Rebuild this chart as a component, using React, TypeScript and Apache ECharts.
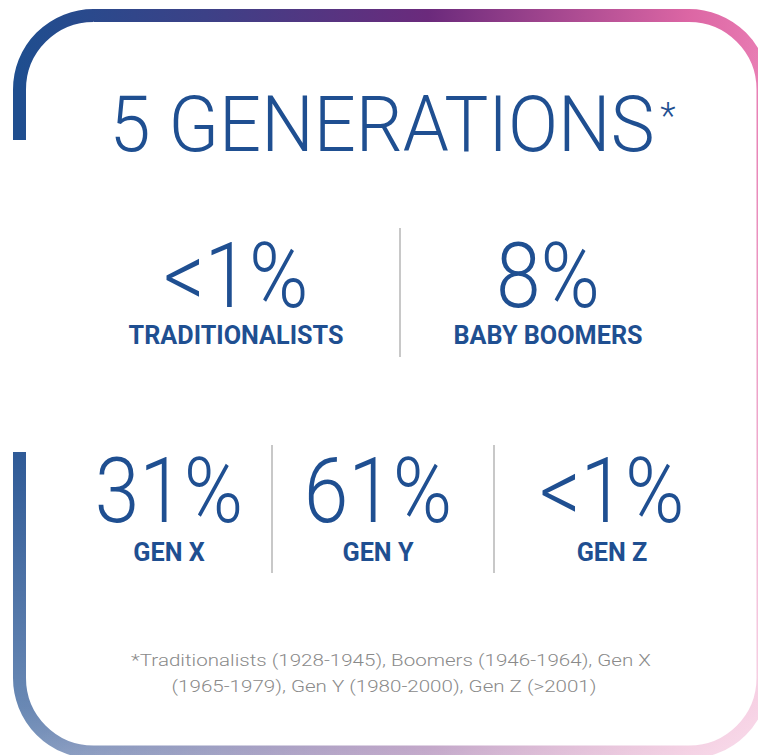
import React, { useEffect, useRef } from "react";
import * as echarts from "echarts";

const titleText = "5 GENERATIONS";
const titleMark = "*";
const topValues = ["<1%", "8%"];
const topLabels = ["TRADITIONALISTS", "BABY BOOMERS"];
const bottomValues = ["31%", "61%", "<1%"];
const bottomLabels = ["GEN X", "GEN Y", "GEN Z"];
const footnoteLines = [
  "*Traditionalists (1928-1945), Boomers (1946-1964), Gen X",
  "(1965-1979), Gen Y (1980-2000), Gen Z (>2001)",
];

const BLUE = "#1f4f91";
const GREY = "#8a8a8a";
const DIV = "#c8c8c8";

function measure(text: string, font: string): number {
  const c = document.createElement("canvas");
  const ctx = c.getContext("2d");
  if (!ctx) return 1;
  ctx.font = font;
  return ctx.measureText(text).width;
}

function txt(text: string, cx: number, cy: number, font: string, fill: string, sx: number) {
  return {
    type: "text",
    x: cx,
    y: cy,
    scaleX: sx,
    z: 10,
    style: { text, x: 0, y: 0, font, fill, textAlign: "center", textVerticalAlign: "middle" },
  };
}

export default function App() {
  const ref = useRef<HTMLDivElement>(null);
  useEffect(() => {
    document.body.style.margin = "0";
    if (!ref.current) return;
    const chart = echarts.init(ref.current, undefined, { renderer: "svg" });

    const titleFont = "300 77px Roboto";
    const valueFont = "300 91px Roboto";
    const labelFont = "bold 26px Roboto";
    const noteFont = "300 17px Roboto";
    const sTitle = 545 / measure(titleText, titleFont);
    const sValue = 145 / measure(topValues[0], valueFont);
    const sLabel = 215 / measure(topLabels[0], labelFont);
    const sNote = 520 / measure(footnoteLines[0], noteFont);

    const topCx = [236, 548];
    const botCx = [169, 378, 612];

    const els: any[] = [];
    // border
    els.push({
      type: "rect",
      z: 1,
      shape: { x: 19.5, y: 15.5, width: 743.5, height: 736.5, r: 74 },
      style: {
        fill: "#ffffff",
        lineWidth: 13,
        stroke: {
          type: "linear", x: 0, y: 0, x2: 1, y2: 0,
          colorStops: [
            { offset: 0, color: "#1f4e8f" },
            { offset: 0.25, color: "#3c4187" },
            { offset: 0.55, color: "#6b2a7c" },
            { offset: 0.72, color: "#a4478f" },
            { offset: 0.9, color: "#dc66a4" },
            { offset: 1, color: "#e87bb2" },
          ],
        },
      },
    });
    // gap in left edge
    els.push({ type: "rect", z: 2, shape: { x: 5, y: 140, width: 30, height: 312 }, style: { fill: "#ffffff" } });
    // fade overlays
    els.push({
      type: "rect", z: 3,
      shape: { x: 13, y: 9, width: 757, height: 750 },
      style: {
        fill: {
          type: "linear", x: 0, y: 0, x2: 0, y2: 1,
          colorStops: [
            { offset: 0, color: "rgba(255,255,255,0)" },
            { offset: 0.17, color: "rgba(255,255,255,0)" },
            { offset: 0.59, color: "rgba(255,255,255,0.07)" },
            { offset: 0.93, color: "rgba(255,255,255,0.33)" },
            { offset: 1, color: "rgba(255,255,255,0.45)" },
          ],
        },
      },
    });
    els.push({
      type: "rect", z: 4,
      shape: { x: 13, y: 9, width: 757, height: 750 },
      style: {
        fill: {
          type: "linear", x: 0, y: 0, x2: 1, y2: 1,
          colorStops: [
            { offset: 0, color: "rgba(255,255,255,0)" },
            { offset: 0.5, color: "rgba(255,255,255,0)" },
            { offset: 1, color: "rgba(255,255,255,0.55)" },
          ],
        },
      },
    });
    // title
    els.push(txt(titleText, 382, 124, titleFont, BLUE, sTitle));
    els.push(txt(titleMark, 668, 116, "300 36px Roboto", BLUE, 1));
    // dividers
    els.push({ type: "line", z: 10, shape: { x1: 400, y1: 228, x2: 400, y2: 357 }, style: { stroke: DIV, lineWidth: 2 } });
    els.push({ type: "line", z: 10, shape: { x1: 272, y1: 445, x2: 272, y2: 573 }, style: { stroke: DIV, lineWidth: 2 } });
    els.push({ type: "line", z: 10, shape: { x1: 494, y1: 445, x2: 494, y2: 573 }, style: { stroke: DIV, lineWidth: 2 } });
    // values
    topValues.forEach((v, i) => els.push(txt(v, topCx[i], 276, valueFont, BLUE, sValue)));
    topLabels.forEach((v, i) => els.push(txt(v, topCx[i], 335, labelFont, BLUE, sLabel)));
    bottomValues.forEach((v, i) => els.push(txt(v, botCx[i], 491, valueFont, BLUE, sValue)));
    bottomLabels.forEach((v, i) => els.push(txt(v, botCx[i], 552, labelFont, BLUE, sLabel)));
    // footnote
    els.push(txt(footnoteLines[0], 391, 661, noteFont, GREY, sNote));
    els.push(txt(footnoteLines[1], 384, 687, noteFont, GREY, sNote));

    chart.setOption({ animation: false, backgroundColor: "#ffffff", graphic: { elements: els } });
    return () => chart.dispose();
  }, []);
  return <div ref={ref} style={{ width: 758, height: 755 }} />;
}
